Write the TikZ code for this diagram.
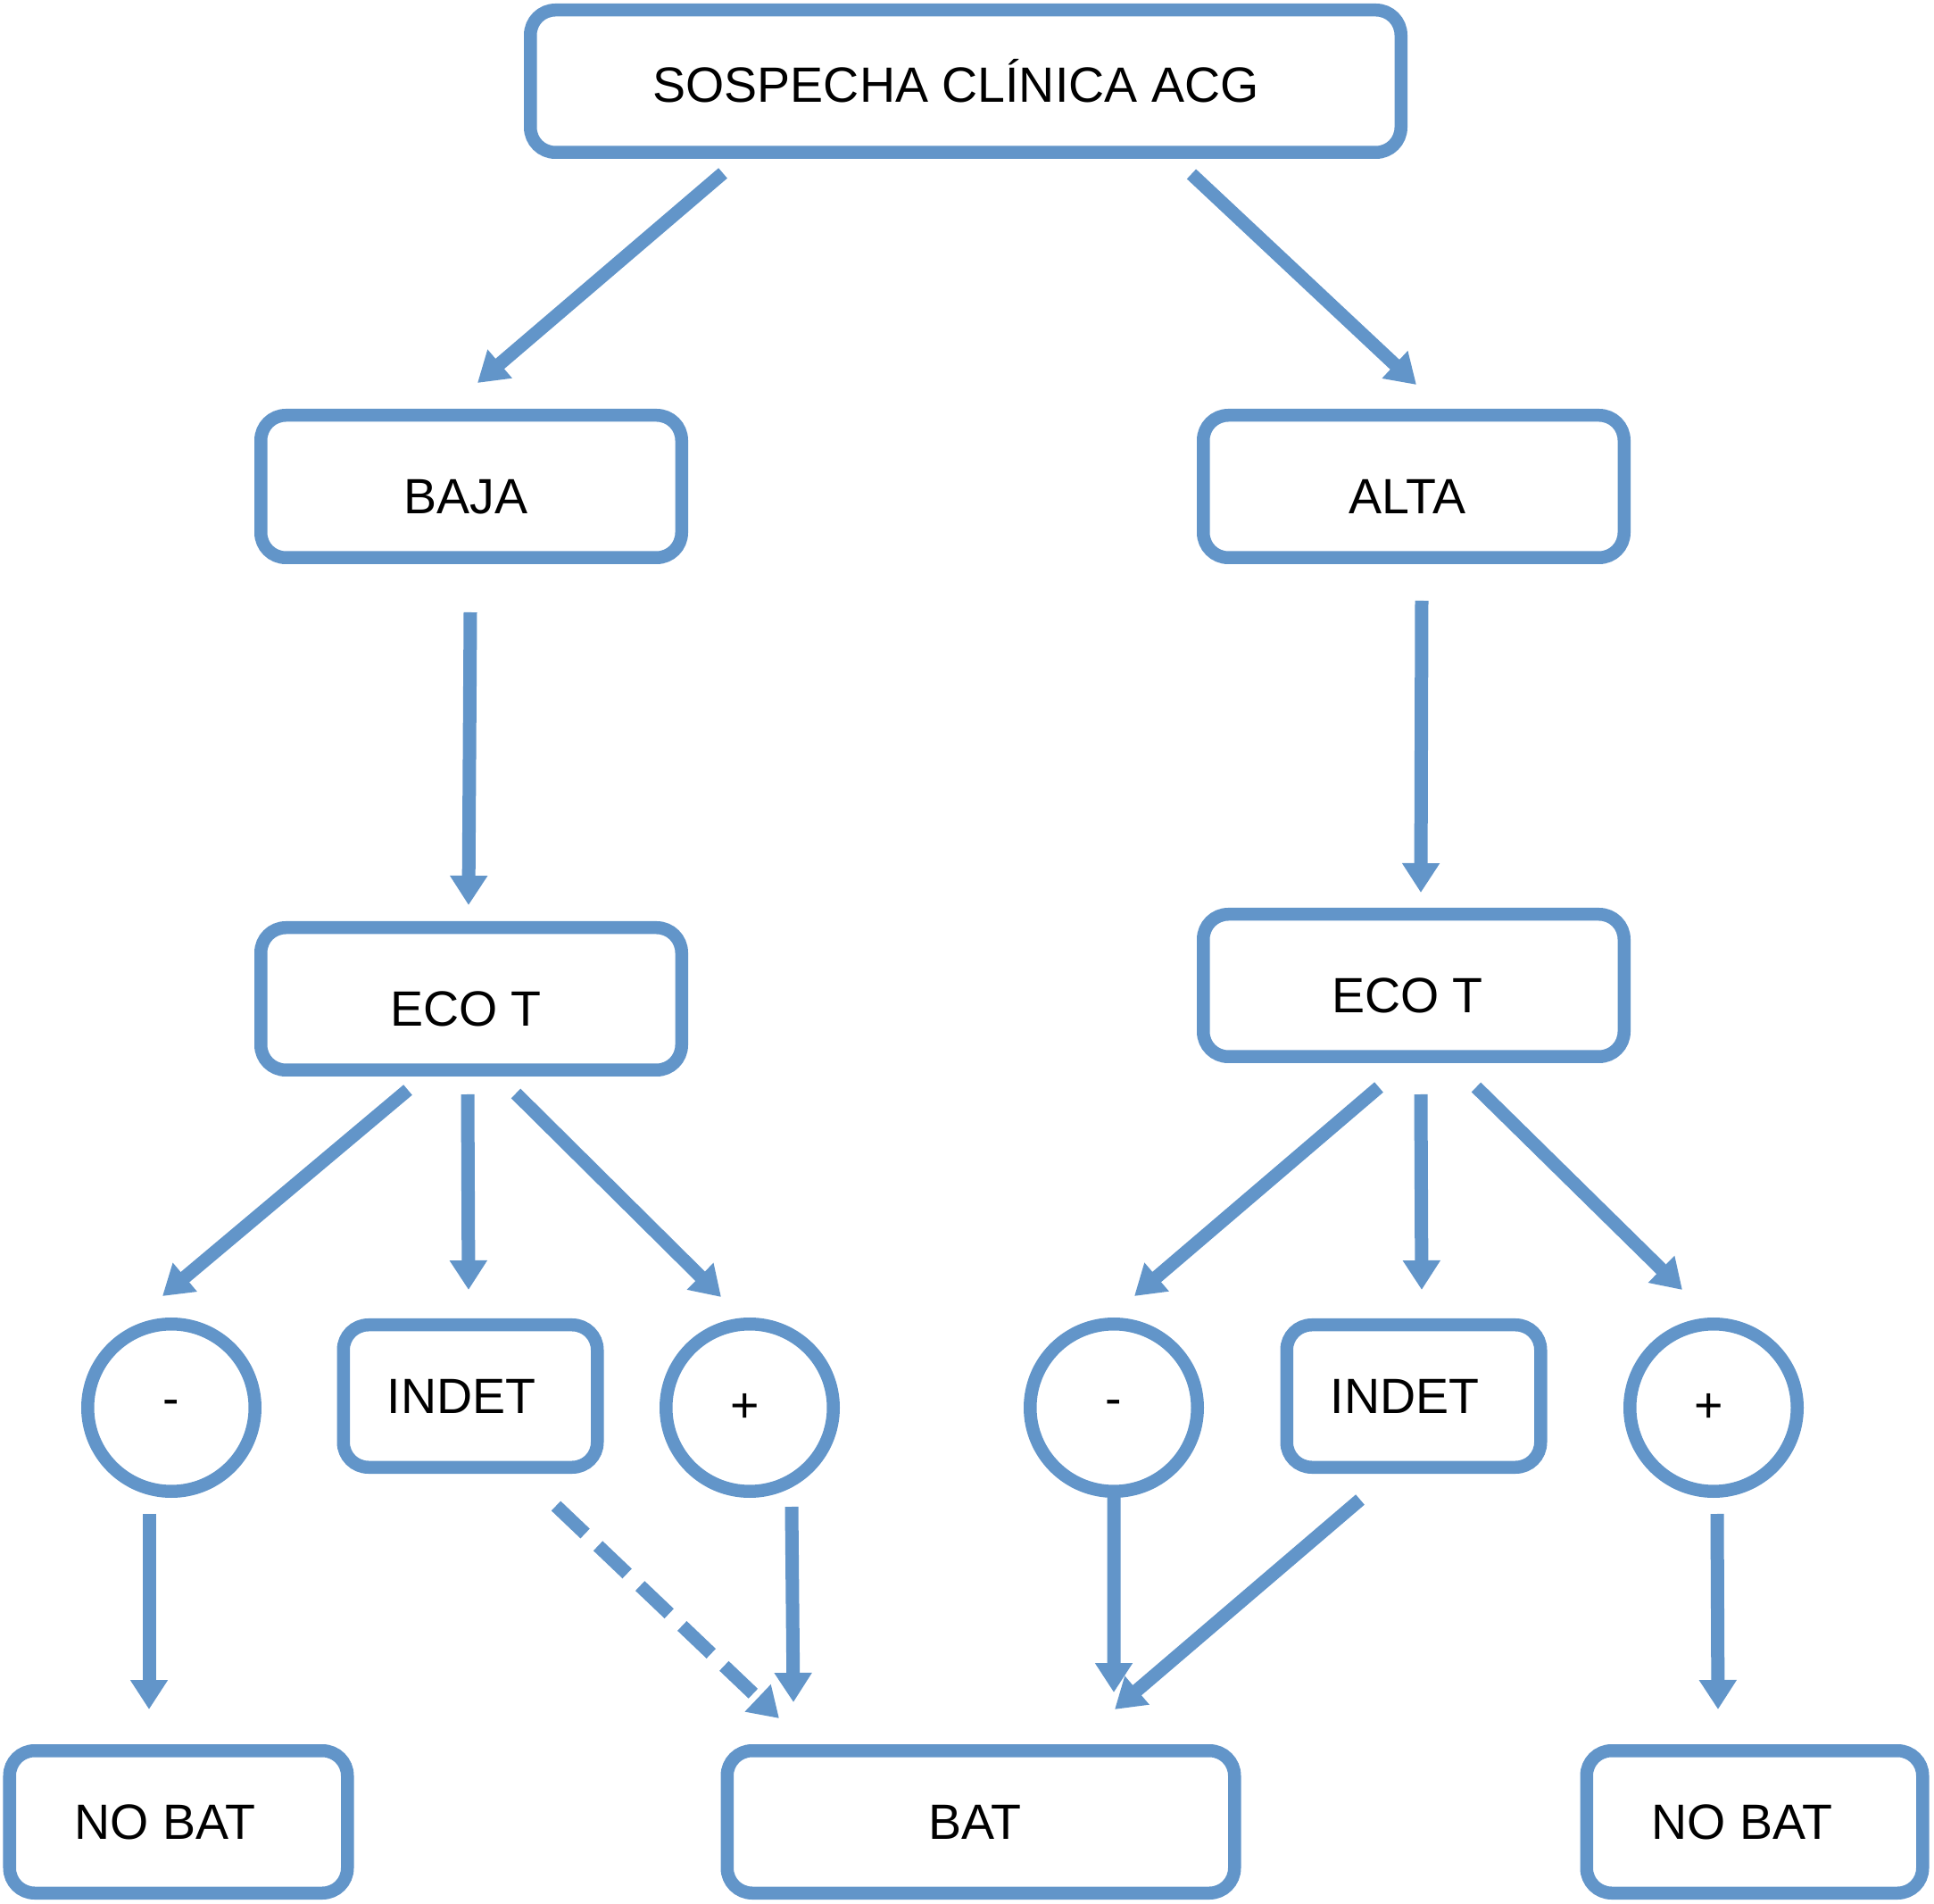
\documentclass[tikz,border=0pt]{standalone}
\usepackage{fontspec}
\setmainfont{Liberation Sans}
\usepackage{tikz}
\usetikzlibrary{arrows.meta,calc}
\definecolor{BoxBlue}{RGB}{98,149,201}
\definecolor{DarkText}{RGB}{0,0,0}
% text sits a little left of the box centre
\newcommand{\lft}[1]{\kern#1}

\begin{document}
\begin{tikzpicture}[
    box/.style={rectangle, rounded corners=0.28cm, draw=BoxBlue, line width=0.145cm,
        minimum height=1.595cm, font=\fontsize{15.8}{18}\selectfont, text=DarkText,
        inner sep=0pt},
    low/.style={text height=0.62cm, text depth=0pt},
    circ/.style={circle, draw=BoxBlue, line width=0.145cm, minimum size=1.875cm,
        font=\fontsize{15.8}{18}\selectfont, text=DarkText, inner sep=0pt},
    arr/.style={-{Triangle[length=0.33cm, width=0.40cm]}, line width=0.15cm, BoxBlue},
]
\useasboundingbox (0,0) rectangle (21.67,21.32);

\node[box, minimum width=9.755cm] (top) at (10.82,20.41) {SOSPECHA CLÍNICA ACG\lft{0.22cm}};
\node[box, low, minimum width=4.715cm] (baja) at (5.28,15.87) {BAJA\lft{0.12cm}};
\node[box, low, minimum width=4.715cm] (alta) at (15.84,15.87) {ALTA\lft{0.14cm}};
\node[box, low, minimum width=4.715cm] (ecoL) at (5.28,10.13) {ECO T\lft{0.12cm}};
\node[box, low, minimum width=4.715cm] (ecoR) at (15.84,10.28) {ECO T\lft{0.14cm}};

\node[circ] (minL) at (1.92,5.55) {-};
\node[box, minimum width=2.845cm] (indL) at (5.27,5.68) {INDET\lft{0.2cm}};
\node[circ] (plusL) at (8.40,5.55) {+\lft{0.1cm}};
\node[circ] (minR) at (12.48,5.55) {-};
\node[box, minimum width=2.845cm] (indR) at (15.84,5.68) {INDET\lft{0.2cm}};
\node[circ] (plusR) at (19.20,5.55) {+\lft{0.1cm}};

\node[box, minimum width=3.785cm] (nobatL) at (2.00,0.91) {NO BAT\lft{0.3cm}};
\node[box, minimum width=5.685cm] (bat) at (10.99,0.91) {BAT\lft{0.14cm}};
\node[box, minimum width=3.765cm] (nobatR) at (19.66,0.91) {NO BAT\lft{0.28cm}};

% first level
\draw[arr] ($(top.south)+(-2.72,-0.16)$) -- ($(baja.north)+(0.07,0.29)$);
\draw[arr] ($(top.south)+(2.53,-0.17)$) -- ($(alta.north)+(0.03,0.27)$);
\draw[arr] ($(baja.south)+(-0.01,-0.54)$) -- ($(ecoL.north)+(-0.03,0.18)$);
\draw[arr] ($(alta.south)+(0.09,-0.41)$) -- ($(ecoR.north)+(0.08,0.17)$);

% eco results
\draw[arr] ($(ecoL.south)+(-0.71,-0.15)$) -- ($(minL.north)+(-0.10,0.24)$);
\draw[arr] ($(ecoL.south)+(-0.04,-0.20)$) -- ($(indL.north)+(-0.02,0.32)$);
\draw[arr] ($(ecoL.south)+(0.50,-0.19)$) -- ($(plusL.north)+(-0.32,0.23)$);
\draw[arr] ($(ecoR.south)+(-0.39,-0.27)$) -- ($(minR.north)+(0.23,0.24)$);
\draw[arr] ($(ecoR.south)+(0.08,-0.35)$) -- ($(indR.north)+(0.09,0.32)$);
\draw[arr] ($(ecoR.south)+(0.70,-0.27)$) -- ($(plusR.north)+(-0.35,0.31)$);

% decision
\draw[arr] ($(minL.south)+(-0.25,-0.18)$) -- ($(nobatL.north)+(-0.33,0.39)$);
\draw[arr, dash pattern=on 0.45cm off 0.2cm] ($(indL.south)+(0.96,-0.36)$) -- ($(bat.north)+(-2.26,0.29)$);
\draw[arr] ($(plusL.south)+(0.47,-0.10)$) -- ($(bat.north)+(-2.10,0.47)$);
\draw[arr] ($(minR.south)+(0,0.04)$) -- ($(bat.north)+(1.49,0.58)$);
\draw[arr] ($(indR.south)+(-0.60,-0.29)$) -- ($(bat.north)+(1.50,0.39)$);
\draw[arr] ($(plusR.south)+(0.04,-0.18)$) -- ($(nobatR.north)+(-0.41,0.39)$);
\end{tikzpicture}
\end{document}
